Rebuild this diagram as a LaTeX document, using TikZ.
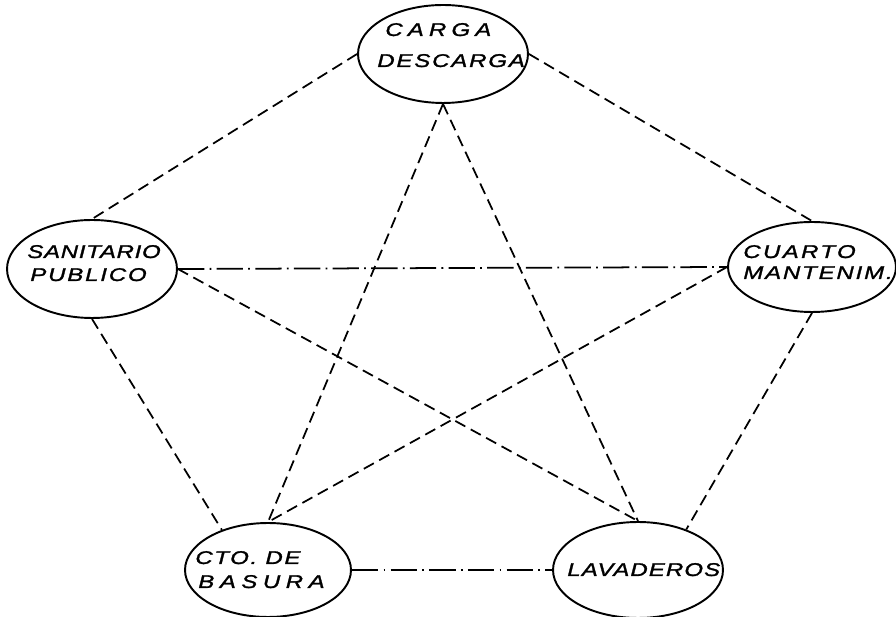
\documentclass[tikz,border=0pt]{standalone}
\usepackage{fontspec}
\newfontfamily\lett[FakeStretch=1.3,FakeBold=1.5]{Liberation Sans}
\usetikzlibrary{shapes.geometric}
\newcommand{\ls}[2]{{\addfontfeature{LetterSpace=#1}#2}}
\tikzset{
  area/.style={draw,ellipse,line width=1.1pt,inner sep=0pt,minimum width=3.4cm,minimum height=1.96cm},
  lbl/.style={anchor=base west,inner sep=0pt,font=\lett\itshape\fontsize{10.5}{12}\selectfont},
  link/.style={line width=1pt,dash pattern=on 6.5pt off 3.5pt},
  linkdot/.style={line width=1pt,dash pattern=on 15pt off 3pt on 1pt off 3pt}
}
\begin{document}
\begin{tikzpicture}[x=0.02cm,y=-0.02cm]
\useasboundingbox (0,0) rectangle (896,617);
% areas
\node[area] (carga) at (443,54) {};
\node[area] (sani) at (92,269) {};
\node[area,minimum width=3.36cm,minimum height=1.8cm] (cuarto) at (812,267) {};
\node[area,minimum width=3.32cm,minimum height=1.88cm] (basura) at (268,570) {};
\node[area,minimum height=1.92cm] (lava) at (638,570) {};
% texts
\node[lbl] (carga1) at (385,36) {\ls{28}{CARGA}};
\node[lbl] (carga2) at (377,67) {\ls{10}{DESCARGA}};
\node[lbl] (sani1) at (27,258) {\ls{4}{SANITARIO}};
\node[lbl] (sani2) at (30,281) {\ls{10}{PUBLICO}};
\node[lbl] (cuarto1) at (743,258) {\ls{13}{CUARTO}};
\node[lbl] (cuarto2) at (743,279) {\ls{10}{MANTENIM.}};
\node[lbl] (basura1) at (195,564) {\ls{9}{CTO. DE}};
\node[lbl] (basura2) at (198,588) {\ls{30}{BASURA}};
\node[lbl] (lava1) at (567,576) {\ls{6}{LAVADEROS}};
% links
\draw[link] (carga.west) -- (sani.north);
\draw[link] (carga.east) -- (cuarto.north);
\draw[link] (carga.south) -- (basura.north);
\draw[link] (carga.south) -- (lava.north);
\draw[linkdot] (sani.east) -- (cuarto.west);
\draw[link] (sani.east) -- (lava.north);
\draw[link] (sani.south) -- (basura.139);
\draw[link] (cuarto.west) -- (basura.north);
\draw[link] (cuarto.south) -- (lava.40);
\draw[linkdot] (basura.east) -- (lava.west);
\end{tikzpicture}
\end{document}
